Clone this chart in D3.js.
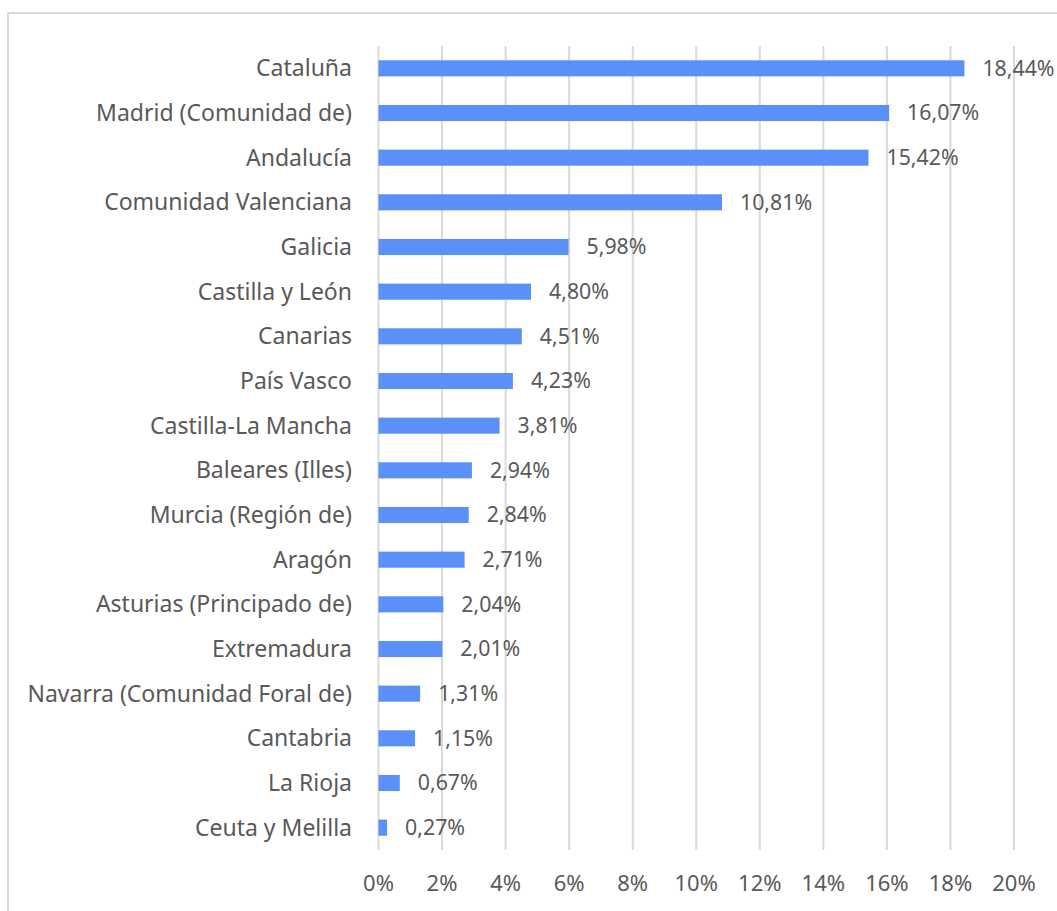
<!DOCTYPE html>
<html><head><meta charset="utf-8">
<script src="https://cdn.jsdelivr.net/npm/d3@7/dist/d3.min.js"></script>
<style>body{margin:0;background:#fff;} svg{display:block;}</style>
</head><body>
<script>
const categories = ["Cataluña","Madrid (Comunidad de)","Andalucía","Comunidad Valenciana","Galicia","Castilla y León","Canarias","País Vasco","Castilla-La Mancha","Baleares (Illes)","Murcia (Región de)","Aragón","Asturias (Principado de)","Extremadura","Navarra (Comunidad Foral de)","Cantabria","La Rioja","Ceuta y Melilla"];
const values = [18.44,16.07,15.42,10.81,5.98,4.80,4.51,4.23,3.81,2.94,2.84,2.71,2.04,2.01,1.31,1.15,0.67,0.27];
const tickValues = [0,2,4,6,8,10,12,14,16,18,20];

const W = 1057, H = 911;
const svg = d3.select("body").append("svg").attr("width", W).attr("height", H);
svg.append("rect").attr("x", 8).attr("y", 13).attr("width", 1100).attr("height", 1000)
  .attr("fill", "#fff").attr("stroke", "#d9d9d9").attr("stroke-width", 2);

const x = d3.scaleLinear().domain([0, 20]).range([378.5, 1014]);
const y = d3.scaleBand().domain(categories).range([46, 850]).paddingInner(0.64).paddingOuter(0.32);
const font = "'Noto Sans', 'Open Sans', sans-serif";
const txt = "#595959";

svg.append("g").selectAll("line").data(tickValues).join("line")
  .attr("x1", d => x(d)).attr("x2", d => x(d)).attr("y1", 46).attr("y2", 850)
  .attr("stroke", "#d9d9d9").attr("stroke-width", 2);

svg.append("g").selectAll("rect").data(values).join("rect")
  .attr("x", x(0)).attr("y", (d, i) => y(categories[i]))
  .attr("width", d => x(d) - x(0)).attr("height", y.bandwidth())
  .attr("fill", "#5b90f9");

svg.append("g").selectAll("text").data(categories).join("text")
  .attr("x", 352).attr("y", d => y(d) + y.bandwidth() / 2).attr("dy", "0.35em")
  .attr("text-anchor", "end").attr("font-family", font).attr("font-size", 23).attr("fill", txt)
  .text(d => d);

svg.append("g").selectAll("text").data(values).join("text")
  .attr("x", d => x(d) + 18).attr("y", (d, i) => y(categories[i]) + y.bandwidth() / 2).attr("dy", "0.35em")
  .attr("font-family", font).attr("font-size", 21.3).attr("fill", txt)
  .text(d => d3.format(".2f")(d).replace(".", ",") + "%");

svg.append("g").selectAll("text").data(tickValues).join("text")
  .attr("x", d => x(d)).attr("y", 883).attr("dy", "0.35em").attr("text-anchor", "middle")
  .attr("font-family", font).attr("font-size", 22).attr("fill", txt)
  .text(d => d + "%");
</script>
</body></html>
